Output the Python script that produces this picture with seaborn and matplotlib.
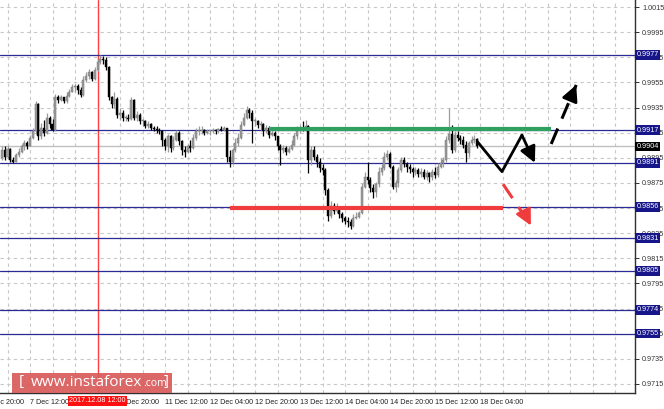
import numpy as np
import pandas as pd
import matplotlib
matplotlib.use("Agg")
import matplotlib.pyplot as plt
from matplotlib.patches import Rectangle
import seaborn as sns

# ---------------- data (USD/CHF H1) ----------------
first_open = 0.9895
close = [0.9901, 0.9896, 0.9902, 0.9893, 0.9892, 0.9897, 0.9900, 0.9904, 0.9907, 0.9904,
         0.9911, 0.9916, 0.9938, 0.9912, 0.9919, 0.9915, 0.9927, 0.9922, 0.9917, 0.9943,
         0.9941, 0.9943, 0.9940, 0.9944, 0.9947, 0.9951, 0.9952, 0.9949, 0.9945, 0.9957,
         0.9960, 0.9963, 0.9958, 0.9965, 0.9971, 0.9974, 0.9973, 0.9967, 0.9943, 0.9938,
         0.9942, 0.9929, 0.9931, 0.9927, 0.9927, 0.9926, 0.9941, 0.9927, 0.9929, 0.9924,
         0.9924, 0.9920, 0.9922, 0.9919, 0.9918, 0.9917, 0.9916, 0.9909, 0.9904, 0.9912,
         0.9903, 0.9909, 0.9915, 0.9908, 0.9901, 0.9900, 0.9904, 0.9903, 0.9911, 0.9916,
         0.9916, 0.9917, 0.9915, 0.9916, 0.9916, 0.9917, 0.9916, 0.9918, 0.9917, 0.9919,
         0.9896, 0.9892, 0.9901, 0.9907, 0.9911, 0.9921, 0.9927, 0.9933, 0.9931, 0.9924,
         0.9924, 0.9921, 0.9922, 0.9916, 0.9919, 0.9913, 0.9915, 0.9912, 0.9904, 0.9901,
         0.9903, 0.9900, 0.9902, 0.9905, 0.9912, 0.9917, 0.9919, 0.9917, 0.9920, 0.9893,
         0.9901, 0.9896, 0.9892, 0.9887, 0.9885, 0.9869, 0.9849, 0.9857, 0.9853, 0.9855,
         0.9850, 0.9847, 0.9845, 0.9844, 0.9841, 0.9847, 0.9848, 0.9851, 0.9872, 0.9880,
         0.9877, 0.9871, 0.9868, 0.9874, 0.9884, 0.9887, 0.9896, 0.9898, 0.9888, 0.9872,
         0.9875, 0.9885, 0.9893, 0.9890, 0.9888, 0.9886, 0.9884, 0.9885, 0.9882, 0.9884,
         0.9880, 0.9883, 0.9880, 0.9884, 0.9881, 0.9888, 0.9891, 0.9893, 0.9909, 0.9914,
         0.9901, 0.9913, 0.9911, 0.9909, 0.9905, 0.9899, 0.9907, 0.9909, 0.9910, 0.9904]
high = [0.9904, 0.9904, 0.9904, 0.9903, 0.9896, 0.9899, 0.9903, 0.9906, 0.9909, 0.9908,
        0.9913, 0.9919, 0.9940, 0.9939, 0.9923, 0.9925, 0.9931, 0.9928, 0.9926, 0.9946,
        0.9945, 0.9945, 0.9943, 0.9947, 0.9950, 0.9954, 0.9954, 0.9954, 0.9951, 0.9960,
        0.9963, 0.9966, 0.9964, 0.9967, 0.9974, 0.9977, 0.9976, 0.9975, 0.9968, 0.9944,
        0.9947, 0.9943, 0.9935, 0.9933, 0.9929, 0.9930, 0.9943, 0.9942, 0.9932, 0.9931,
        0.9926, 0.9925, 0.9924, 0.9923, 0.9920, 0.9920, 0.9919, 0.9917, 0.9911, 0.9914,
        0.9913, 0.9912, 0.9917, 0.9916, 0.9909, 0.9904, 0.9906, 0.9909, 0.9914, 0.9919,
        0.9920, 0.9920, 0.9918, 0.9918, 0.9917, 0.9919, 0.9918, 0.9919, 0.9920, 0.9920,
        0.9919, 0.9901, 0.9903, 0.9911, 0.9915, 0.9924, 0.9931, 0.9936, 0.9935, 0.9933,
        0.9927, 0.9925, 0.9924, 0.9923, 0.9921, 0.9920, 0.9917, 0.9916, 0.9912, 0.9906,
        0.9905, 0.9904, 0.9904, 0.9909, 0.9915, 0.9920, 0.9921, 0.9924, 0.9925, 0.9921,
        0.9904, 0.9904, 0.9898, 0.9895, 0.9890, 0.9887, 0.9871, 0.9861, 0.9859, 0.9859,
        0.9856, 0.9852, 0.9849, 0.9848, 0.9846, 0.9850, 0.9852, 0.9853, 0.9875, 0.9884,
        0.9892, 0.9880, 0.9874, 0.9876, 0.9888, 0.9890, 0.9900, 0.9901, 0.9900, 0.9889,
        0.9877, 0.9888, 0.9896, 0.9896, 0.9892, 0.9890, 0.9888, 0.9888, 0.9887, 0.9887,
        0.9886, 0.9885, 0.9884, 0.9886, 0.9888, 0.9891, 0.9895, 0.9896, 0.9912, 0.9935,
        0.9921, 0.9916, 0.9916, 0.9913, 0.9912, 0.9908, 0.9908, 0.9912, 0.9913, 0.9911]
low = [0.9893, 0.9893, 0.9895, 0.9892, 0.9891, 0.9892, 0.9896, 0.9899, 0.9901, 0.9902,
       0.9904, 0.9910, 0.9914, 0.9909, 0.9910, 0.9912, 0.9914, 0.9919, 0.9916, 0.9916,
       0.9939, 0.9940, 0.9939, 0.9939, 0.9943, 0.9947, 0.9947, 0.9946, 0.9943, 0.9944,
       0.9955, 0.9958, 0.9956, 0.9957, 0.9964, 0.9970, 0.9970, 0.9965, 0.9941, 0.9935,
       0.9935, 0.9927, 0.9925, 0.9924, 0.9924, 0.9924, 0.9925, 0.9925, 0.9924, 0.9922,
       0.9920, 0.9919, 0.9919, 0.9917, 0.9916, 0.9915, 0.9914, 0.9904, 0.9901, 0.9900,
       0.9900, 0.9901, 0.9908, 0.9905, 0.9897, 0.9896, 0.9899, 0.9900, 0.9902, 0.9909,
       0.9913, 0.9914, 0.9913, 0.9914, 0.9913, 0.9915, 0.9914, 0.9915, 0.9916, 0.9916,
       0.9892, 0.9888, 0.9891, 0.9900, 0.9904, 0.9910, 0.9920, 0.9926, 0.9927, 0.9907,
       0.9920, 0.9919, 0.9916, 0.9912, 0.9915, 0.9911, 0.9912, 0.9909, 0.9901, 0.9889,
       0.9899, 0.9897, 0.9899, 0.9901, 0.9904, 0.9910, 0.9915, 0.9916, 0.9916, 0.9883,
       0.9889, 0.9893, 0.9888, 0.9884, 0.9881, 0.9865, 0.9845, 0.9847, 0.9850, 0.9851,
       0.9847, 0.9844, 0.9842, 0.9840, 0.9838, 0.9840, 0.9846, 0.9847, 0.9850, 0.9871,
       0.9874, 0.9868, 0.9863, 0.9864, 0.9872, 0.9881, 0.9885, 0.9893, 0.9887, 0.9870,
       0.9868, 0.9872, 0.9884, 0.9888, 0.9884, 0.9883, 0.9880, 0.9881, 0.9880, 0.9880,
       0.9878, 0.9877, 0.9876, 0.9877, 0.9879, 0.9880, 0.9887, 0.9888, 0.9892, 0.9907,
       0.9899, 0.9900, 0.9908, 0.9906, 0.9903, 0.9892, 0.9896, 0.9905, 0.9907, 0.9903]

# time axis (bar index of each label)
time_labels = ["6 Dec 20:00", "7 Dec 12:00", "8 Dec 04:00", "8 Dec 20:00", "11 Dec 12:00",
               "12 Dec 04:00", "12 Dec 20:00", "13 Dec 12:00", "14 Dec 04:00",
               "14 Dec 20:00", "15 Dec 12:00", "18 Dec 04:00"]
time_label_bars = [-6, 10, 26, 42, 58, 74, 90, 106, 122, 138, 154, 170]
marker_bar = 34
marker_label = "2017.12.08 12:00"

price_ticks = [0.9715, 0.9735, 0.9755, 0.9775, 0.9795, 0.9815, 0.9835, 0.9855, 0.9875,
               0.9895, 0.9915, 0.9935, 0.9955, 0.9975, 0.9995, 1.0015]
levels = [0.9977, 0.9917, 0.9891, 0.9856, 0.9831, 0.9805, 0.9774, 0.9755]
current_price = 0.9904

# forecast drawings (bar index, price)
green_bars = [95, 195.2]
green_price = 0.9918
red_bars = [81.1, 178.2]
red_price = 0.9855
zigzag_bars = [169, 177.8, 184.9, 189.5]
zigzag_prices = [0.9908, 0.9884, 0.9913, 0.9891]
up_bars = [195.3, 204.2]
up_prices = [0.9906, 0.9953]
down_bars = [178.2, 188.1]
down_prices = [0.9874, 0.9841]

# ---------------- styling ----------------
sns.set_theme(style="white")
plt.rcParams['font.family'] = ['Liberation Sans', 'DejaVu Sans']

W, H = 664, 409
fig = plt.figure(figsize=(W / 100, H / 100), dpi=100)
fig.patch.set_facecolor("white")
ax = fig.add_axes([0, 16 / H, 635 / W, 393 / H])
ax.set_facecolor("white")

n = len(close)
x = np.arange(n)
c = np.array(close)
o = np.r_[first_open, c[:-1]]
hi = np.maximum.reduce([np.array(high), o, c])
lo = np.minimum.reduce([np.array(low), o, c])
df = pd.DataFrame({"bar": x, "open": o, "high": hi, "low": lo, "close": c})
df["bull"] = df["close"] >= df["open"]

# grid
grid_kw = dict(color="#c8c8c8", lw=0.8, ls=(0, (3, 3)), zorder=0)
for p in price_ticks:
    ax.axhline(p, **grid_kw)
for g in np.arange(2, 226, 8):
    ax.axvline(g, **grid_kw)

# current price line & levels
ax.axhline(current_price, color="#c0c0c0", lw=1.0, zorder=1)
for lv in levels:
    ax.axhline(lv, color="#2b2b96", lw=0.9, zorder=2)

# marker vertical line
ax.axvline(marker_bar, color="#ff4040", lw=1.0, zorder=1.5)

# candles
for bull, sub in df.groupby("bull"):
    col = "#9c9c9c" if bull else "#000000"
    ax.vlines(sub["bar"], sub["low"], sub["high"], colors=col, lw=0.9, zorder=3)
    body_lo = np.minimum(sub["open"], sub["close"])
    body_h = np.maximum(np.abs(sub["close"] - sub["open"]), 0.00008)
    ax.bar(sub["bar"], body_h, bottom=body_lo, width=0.72, color=col,
           edgecolor="#707070" if bull else "#000000", linewidth=0.3, zorder=4)

# green / red horizontal drawings
ax.plot(green_bars, [green_price] * 2, color="#30a060", lw=3.0, zorder=5, solid_capstyle="butt")
ax.plot(red_bars, [red_price] * 2, color="#f03c3c", lw=3.0, zorder=5, solid_capstyle="butt")

head = dict(arrowstyle="-|>,head_length=0.6,head_width=0.3", shrinkA=0, shrinkB=0)

# black zigzag
zz = pd.DataFrame({"bar": zigzag_bars, "price": zigzag_prices})
sns.lineplot(data=zz.iloc[:-1], x="bar", y="price", sort=False, ax=ax, color="black",
             lw=2.0, zorder=6, legend=False)
ax.annotate("", xy=(zigzag_bars[-1], zigzag_prices[-1]),
            xytext=(zigzag_bars[-2], zigzag_prices[-2]),
            arrowprops=dict(lw=2.0, color="black", mutation_scale=16, **head), zorder=6)

# dashed up arrow (black)
ax.plot(up_bars, up_prices, color="black", lw=2.2, ls=(0, (5.5, 3.5)), zorder=6)
ax.annotate("", xy=(up_bars[1], up_prices[1]),
            xytext=(up_bars[1] - 1.5, up_prices[1] - 0.0008),
            arrowprops=dict(lw=2.0, color="black", mutation_scale=16, **head), zorder=6)

# dashed down arrow (red)
ax.plot(down_bars, down_prices, color="#f03c3c", lw=2.2, ls=(0, (5.5, 3.5)), zorder=6)
ax.annotate("", xy=(down_bars[1], down_prices[1]),
            xytext=(down_bars[1] - 1.6, down_prices[1] + 0.0007),
            arrowprops=dict(lw=2.0, color="#f03c3c", mutation_scale=16, **head), zorder=6)

# axes, ticks
for s in ["left", "top"]:
    ax.spines[s].set_visible(False)
for s in ["right", "bottom"]:
    ax.spines[s].set_color("#303030")
    ax.spines[s].set_linewidth(1.0)
ax.yaxis.tick_right()
ax.set_yticks(price_ticks)
ax.set_yticklabels([f"{p:.4f}" for p in price_ticks])
ax.tick_params(axis="y", labelsize=5.2, length=3, width=0.7, pad=2, colors="#303030",
               labelcolor="#333333", direction="out")
ax.set_xticks(time_label_bars)
ax.set_xticklabels(time_labels, ha="left")
ax.tick_params(axis="x", labelsize=5.2, length=3, width=0.7, pad=1, colors="#303030",
               labelcolor="#222222", direction="out")
ax.set_xlabel("")
ax.set_ylabel("")
# limits last, so the ticks do not widen them
ax.set_xlim(-0.67, 225.1)
ax.set_ylim(0.97078, 1.00206)

# the first time label lies left of the view: draw it partly cut off by the edge
xtrans = ax.get_xaxis_transform()
ax.annotate(time_labels[0], xy=(time_label_bars[0], 0), xycoords=xtrans,
            xytext=(0, -4), textcoords="offset points", ha="left", va="top",
            fontsize=5.2, color="#222222", annotation_clip=False)

# price boxes on right axis
ytrans = ax.get_yaxis_transform()
box_kw = dict(boxstyle="square,pad=0.18", ec="none")
for lv in levels:
    ax.text(1.0025, lv, f"{lv:.4f}", transform=ytrans, ha="left", va="center",
            fontsize=5.2, color="white", zorder=10, clip_on=False,
            bbox=dict(fc="#16168a", **box_kw))
ax.text(1.0025, current_price, f"{current_price:.4f}", transform=ytrans, ha="left",
        va="center", fontsize=5.2, color="white", zorder=10, clip_on=False,
        bbox=dict(fc="#000000", **box_kw))

# marker label at bottom
ax.text(marker_bar, -0.011, marker_label, transform=xtrans, ha="center", va="top",
        fontsize=5.2, color="white", zorder=10, clip_on=False,
        bbox=dict(fc="#ff1010", boxstyle="square,pad=0.2", ec="none"))

# watermark
fig.patches.append(Rectangle((12 / W, 16 / H), 160 / W, 20 / H, transform=fig.transFigure,
                             fc="#d85a5a", ec="none", alpha=0.92, zorder=20))
wy = 27 / H
fig.text(19 / W, wy, "[", fontsize=11, color="white", va="center", ha="left",
         family="Open Sans", zorder=21)
fig.text(31 / W, wy, "www.instaforex", fontsize=11, color="white", va="center",
         ha="left", family="Open Sans", zorder=21)
fig.text(143 / W, wy - 1 / H, ".com", fontsize=7.5, color="white", va="center", ha="left",
         family="Open Sans", zorder=21)
fig.text(164 / W, wy, "]", fontsize=11, color="white", va="center", ha="left",
         family="Open Sans", zorder=21)

fig.savefig("out.png", dpi=100, facecolor="white")
